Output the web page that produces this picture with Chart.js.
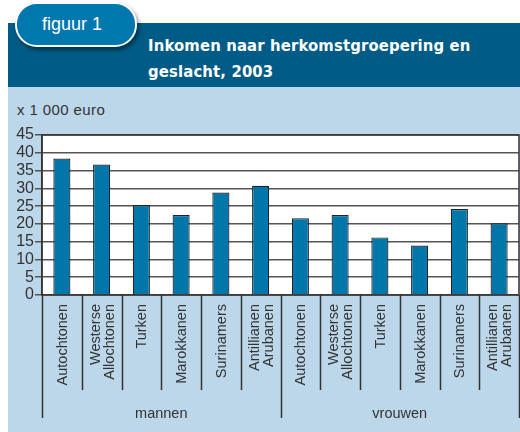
<!DOCTYPE html>
<html><head><meta charset="utf-8">
<script src="https://cdn.jsdelivr.net/npm/chart.js@4"></script>
<style>
html,body{margin:0;padding:0;background:#fff;width:520px;height:432px;overflow:hidden;font-family:"Liberation Sans",Arial,sans-serif;}
#band{position:absolute;left:8px;top:23px;width:512px;height:64px;background:#005c86;}
#pill{position:absolute;left:15px;top:2px;width:118px;height:41px;border-radius:22px;background:#0077ad;border:2px solid #fff;box-shadow:2px 3px 4px rgba(0,0,0,0.45);color:#fff;font-size:18px;line-height:41px;text-indent:25px;}
#title{position:absolute;left:148px;top:33px;color:#fff;font-family:"DejaVu Sans Condensed","DejaVu Sans",sans-serif;font-weight:bold;font-size:16.5px;line-height:26px;letter-spacing:0.15px;}
#panel{position:absolute;left:8px;top:87px;width:512px;height:345px;background:#bcd7ea;}
#unit{position:absolute;left:9px;top:14px;font-size:15px;letter-spacing:0.4px;color:#333;}
#wrap{position:absolute;left:0;top:0;width:512px;height:345px;}
</style></head><body>
<div id="band"></div>
<div id="pill">figuur 1</div>
<div id="title">Inkomen naar herkomstgroepering en<br>geslacht, 2003</div>
<div id="panel"><div id="unit">x 1 000 euro</div><div id="wrap"><canvas id="c"></canvas></div></div>
<script>
const groups = ["mannen", "vrouwen"];
const origins = [["Autochtonen"], ["Westerse","Allochtonen"], ["Turken"], ["Marokkanen"], ["Surinamers"], ["Antillianen","Arubanen"]];
const categories = [...origins, ...origins];
const income = [38.4, 36.7, 25.3, 22.5, 28.8, 30.7, 21.6, 22.5, 16.2, 13.9, 24.2, 20.2];
const yTicks = [0,5,10,15,20,25,30,35,40,45];

const textColor = '#333';
const FONT = '"Liberation Sans", Arial, sans-serif';
const bgPlugin = {
  id:'bg',
  beforeDraw(chart){
    const {ctx, chartArea:a} = chart;
    ctx.save(); ctx.fillStyle='#fff'; ctx.fillRect(a.left,a.top,a.right-a.left,a.bottom-a.top); ctx.restore();
  },
  afterDraw(chart){
    const {ctx, chartArea:a} = chart;
    const xs = chart.scales.x;
    const n = categories.length;
    const per = origins.length;
    const step = (a.right-a.left)/n;
    ctx.save();
    ctx.strokeStyle='#333'; ctx.lineWidth=1.5;
    ctx.beginPath(); ctx.moveTo(a.left,a.top); ctx.lineTo(a.right,a.top); ctx.lineTo(a.right,a.bottom); ctx.lineTo(a.left,a.bottom); ctx.closePath(); ctx.stroke();
    for(let i=0;i<=n;i++){
      const x = Math.round(a.left + i*step)+0.5;
      const big = (i%per===0);
      ctx.beginPath(); ctx.moveTo(x,a.bottom); ctx.lineTo(x, a.bottom + (big?123:95)); ctx.stroke();
    }
    ctx.fillStyle=textColor; ctx.font='14.5px '+FONT;
    categories.forEach((lab,i)=>{
      const cx = xs.getPixelForValue(i);
      const lh = 14;
      lab.forEach((line,li)=>{
        const off = (li - (lab.length-1)/2)*lh;
        ctx.save();
        ctx.translate(cx+off+5, a.bottom+9);
        ctx.rotate(-Math.PI/2);
        ctx.textAlign='right'; ctx.textBaseline='alphabetic';
        ctx.fillText(line,0,0);
        ctx.restore();
      });
    });
    ctx.textAlign='center'; ctx.textBaseline='middle'; ctx.font='14.5px '+FONT;
    groups.forEach((g,gi)=>{
      const x0 = a.left + gi*per*step, x1 = a.left+(gi+1)*per*step;
      ctx.fillText(g,(x0+x1)/2, a.bottom+119);
    });
    ctx.restore();
  }
};

new Chart(document.getElementById('c'), {
  type:'bar',
  data:{labels:categories.map(l=>l.join(' ')), datasets:[{data:income, backgroundColor:'#0076ab', borderColor:'#222', borderWidth:1.2, barPercentage:0.43, categoryPercentage:1.0}]},
  options:{
    responsive:true, maintainAspectRatio:false, animation:false,
    layout:{padding:{top:48,right:1,left:0,bottom:0}},
    plugins:{legend:{display:false},tooltip:{enabled:false}},
    scales:{
      x:{
        grid:{display:false}, border:{display:false},
        ticks:{display:false},
        afterFit(s){ s.height = 137; s.paddingLeft = 0; s.paddingRight = 0; }
      },
      y:{
        min:0, max:45,
        grid:{color:'#555', lineWidth:1.5, tickLength:7, drawTicks:true},
        border:{display:true,color:'#333',width:1.5},
        ticks:{color:textColor, font:{size:16, family:FONT}, padding:1, stepSize:5, autoSkip:false,
          callback:(v)=> yTicks.includes(v) ? String(v) : ''},
        afterFit(s){ s.width = 34; s.paddingTop = 0; s.paddingBottom = 0; }
      }
    }
  },
  plugins:[bgPlugin]
});
</script></body></html>
